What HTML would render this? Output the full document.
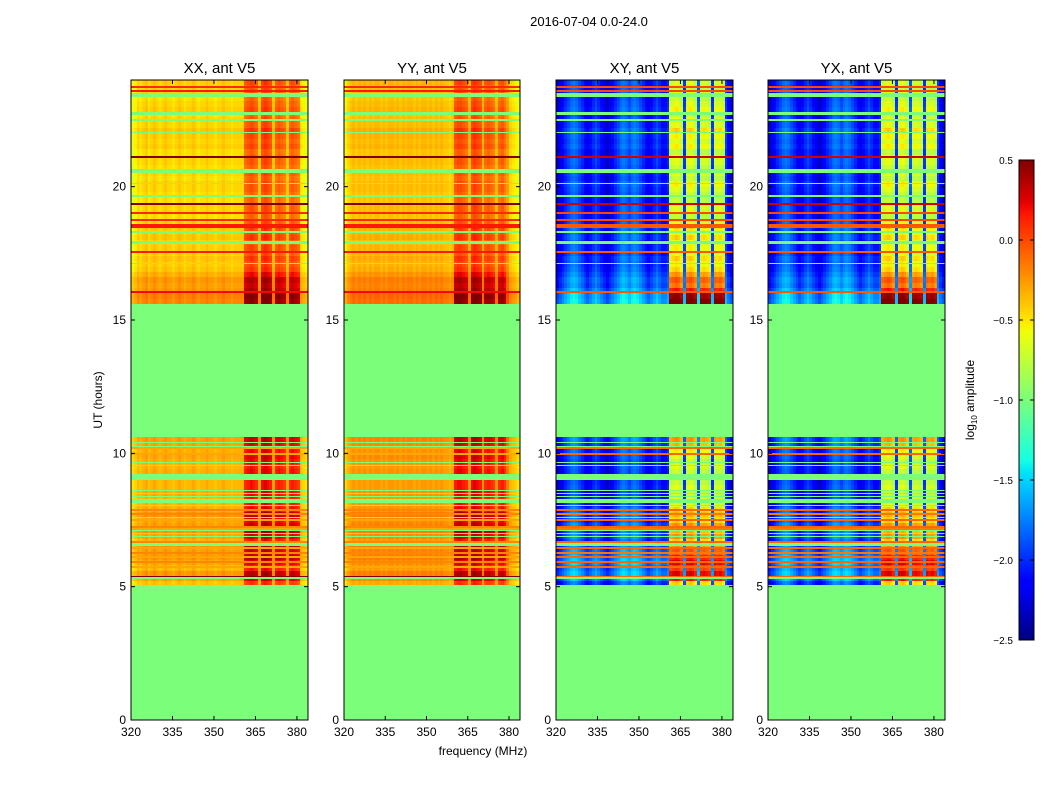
<!DOCTYPE html>
<html><head><meta charset="utf-8"><style>
body{margin:0;background:#fff;width:1050px;height:800px;overflow:hidden;position:relative;font-family:"Liberation Sans",sans-serif}
canvas{position:absolute;image-rendering:pixelated}
svg{position:absolute;left:0;top:0}
</style></head><body>
<canvas id="c0" width="177" height="640" style="left:131px;top:80px"></canvas>
<canvas id="c1" width="176" height="640" style="left:344px;top:80px"></canvas>
<canvas id="c2" width="177" height="640" style="left:556px;top:80px"></canvas>
<canvas id="c3" width="177" height="640" style="left:768px;top:80px"></canvas>
<canvas id="cb" width="15" height="480" style="left:1019px;top:160px"></canvas>
<svg id="ov" width="1050" height="800"></svg>
<script>
// ---- data ----
const panelTitles = ["XX, ant V5","YY, ant V5","XY, ant V5","YX, ant V5"];
const freqStart = 320, freqStep = 1;
const timeStart = 5.0, timeStep = 0.2;
const xTicks = [320,335,350,365,380];
const yTicks = [0,5,10,15,20];
const cbTicks = [0.5,0.0,-0.5,-1.0,-1.5,-2.0,-2.5];
const cbTickLabels = ["0.5","0.0","\u22120.5","\u22121.0","\u22121.5","\u22122.0","\u22122.5"];
const colXX = [-0.65,-0.6,-0.5,-0.55,-0.5,-0.45,-0.55,-0.5,-0.45,-0.5,
-0.55,-0.5,-0.45,-0.5,-0.5,-0.55,-0.5,-0.45,-0.5,-0.55,
-0.5,-0.5,-0.45,-0.5,-0.55,-0.5,-0.5,-0.45,-0.5,-0.5,
-0.55,-0.5,-0.5,-0.45,-0.5,-0.5,-0.55,-0.5,-0.5,-0.5,
-0.5,-0.2,-0.15,-0.1,-0.15,-0.2,-0.45,-0.1,-0.05,-0.1,
-0.15,-0.45,-0.2,-0.15,-0.2,-0.25,-0.45,-0.2,-0.15,-0.2,
-0.25,-0.55,-0.6,-0.65];
const colYY = [-0.6,-0.5,-0.45,-0.4,-0.45,-0.4,-0.45,-0.4,-0.45,-0.4,
-0.45,-0.4,-0.4,-0.45,-0.4,-0.45,-0.4,-0.4,-0.45,-0.4,
-0.45,-0.4,-0.45,-0.4,-0.4,-0.45,-0.4,-0.45,-0.4,-0.4,
-0.45,-0.4,-0.45,-0.4,-0.45,-0.4,-0.45,-0.45,-0.5,-0.45,
-0.15,-0.1,-0.1,-0.15,-0.2,-0.4,-0.1,-0.05,-0.1,-0.15,
-0.4,-0.2,-0.15,-0.2,-0.25,-0.4,-0.2,-0.15,-0.25,-0.3,
-0.5,-0.55,-0.6,-0.65];
const colXY = [-2.35,-2.25,-2.15,-2.05,-1.95,-1.85,-1.8,-1.85,-1.95,-2.05,
-2.15,-2.25,-2.15,-2.05,-1.95,-2.05,-2.15,-2.25,-2.35,-2.25,
-2.15,-2.05,-1.95,-1.85,-1.8,-1.85,-1.95,-1.85,-1.8,-1.85,
-1.95,-2.05,-2.15,-2.25,-2.15,-2.05,-1.95,-2.05,-2.15,-2.15,
-2.05,-0.8,-0.75,-0.7,-0.75,-0.85,-2.0,-0.75,-0.7,-0.75,
-0.85,-1.9,-0.8,-0.75,-0.8,-0.85,-2.0,-0.75,-0.8,-0.75,
-0.85,-2.0,-2.2,-2.3];
const colYX = [-2.35,-2.25,-2.15,-2.05,-1.95,-1.85,-1.8,-1.85,-1.95,-2.05,
-2.15,-2.25,-2.15,-2.05,-1.95,-2.05,-2.15,-2.25,-2.35,-2.25,
-2.15,-2.05,-1.95,-1.85,-1.8,-1.85,-1.95,-1.85,-1.8,-1.85,
-1.95,-2.05,-2.15,-2.25,-2.15,-2.05,-1.95,-2.05,-2.15,-2.15,
-2.05,-0.8,-0.75,-0.7,-0.75,-0.85,-2.0,-0.75,-0.7,-0.75,
-0.85,-1.9,-0.8,-0.75,-0.8,-0.85,-2.0,-0.75,-0.8,-0.75,
-0.85,-2.0,-2.2,-2.3];
const N = null;
const rowPar = [0.2,0.4,0.5,0.3,0.4,0.5,0.45,0.5,0.3,0.4,
0.5,0.45,0.4,0.5,0.35,0.3,0.3,0.35,0.3,0.3,
N,0.35,0.3,0.35,0.4,0.35,0.4,0.45,
N,N,N,N,N,N,N,N,N,N,N,N,N,N,N,N,N,N,N,N,N,N,N,N,N,
0.6,0.65,0.5,0.45,0.5,0.35,0.2,0.15,0.2,0.1,
0.15,0.1,0.2,0.15,0.2,0.1,0.05,0.1,0.1,0.05,
0.05,0.1,0.1,0.05,0.1,0.05,0.1,0.1,0.05,0.15,
0.1,0.15,0.2,0.1,0.1,0.05,0.15,0.1,0.05,0.1,
0.1,0.15];
const rowCross = [0.3,0.9,1.0,0.8,1.0,0.9,0.7,0.5,0.3,0.5,
0.4,0.5,0.3,0.4,0.3,0.1,0.1,0,0.1,0,
N,0,0.1,0,0.1,0.2,0.4,0.5,
N,N,N,N,N,N,N,N,N,N,N,N,N,N,N,N,N,N,N,N,N,N,N,N,N,
1.3,1.2,0.9,0.6,0.7,0.5,0.3,0.2,0.3,0.1,
0.2,0.1,0.3,0.2,0.3,0.1,0,0.1,0.1,0,
0,0.1,0.2,0,0.1,0,0.1,0.1,0,0.2,
0.1,0.2,0.3,0.1,0.1,0,0.2,0.1,0,0.1,
0,0.1];
const flagStart = [23.38,22.68,22.45,22.0,20.5,20.1,19.63,18.28,17.85,17.1,
9.0,8.15,6.52,5.28,10.4,10.22,9.65,9.54,9.2,8.6,8.48,8.35,8.04,7.59,7.1,6.98,6.85];
const flagEnd = [23.52,22.8,22.55,22.05,20.65,20.14,19.68,18.32,17.95,17.14,
9.18,8.3,6.62,5.38,10.44,10.26,9.69,9.58,9.24,8.64,8.52,8.39,8.08,7.63,7.14,7.02,6.89];
const hotHours = [23.75,23.6,21.1,19.35,19.0,18.75,18.55,18.48,17.55,16.05,
10.2,9.97,7.87,7.72,7.5,7.24,7.15,6.68,6.45,6.26,6.11,5.92,5.74,5.36];
const hotPar = [0.1,0.15,0.5,0.5,0.1,0.1,0.15,0.15,0.15,0.2,
-0.3,-0.3,-0.2,-0.2,-0.3,-0.2,-0.3,-0.2,-0.3,-0.2,-0.3,-0.2,-0.3,0.5];
const hotCross = [0.0,0.0,0.3,0.3,0.0,0.0,-0.05,-0.05,-0.05,-0.05,
-0.1,-0.1,-0.1,-0.15,-0.1,-0.1,-0.15,-0.1,-0.1,-0.15,-0.1,-0.1,-0.1,-0.1];

// ---- helpers ----
function lerp(pts,t){for(let i=1;i<pts.length;i++){if(t<=pts[i][0]){const a=pts[i-1],b=pts[i];return a[1]+(b[1]-a[1])*(t-a[0])/(b[0]-a[0]);}}return pts[pts.length-1][1];}
function jet(v){let t=(v+2.5)/3;t=Math.max(0,Math.min(1,t));
const r=lerp([[0,0],[0.35,0],[0.66,1],[0.89,1],[1,0.5]],t);
const g=lerp([[0,0],[0.125,0],[0.375,1],[0.64,1],[0.91,0],[1,0]],t);
const b=lerp([[0,0.5],[0.11,1],[0.34,1],[0.65,0],[1,0]],t);
return `rgb(${Math.round(r*255)},${Math.round(g*255)},${Math.round(b*255)})`;}
const FMIN=320, FMAX=384, PH=640;
function yScale(h){return PH-h/24*PH;}
const panels=[{id:"c0",col:colXX,row:rowPar,hot:hotPar,cross:false,left:131,w:177},
{id:"c1",col:colYY,row:rowPar,hot:hotPar,cross:false,left:344,w:176},
{id:"c2",col:colXY,row:rowCross,hot:hotCross,cross:true,left:556,w:177},
{id:"c3",col:colYX,row:rowCross,hot:hotCross,cross:true,left:768,w:177}];
panels.forEach(p=>{
 const ctx=document.getElementById(p.id).getContext('2d');
 const xS=f=>(f-FMIN)/(FMAX-FMIN)*p.w;
 ctx.fillStyle=jet(-1.0);ctx.fillRect(0,0,p.w,PH);
 p.row.forEach((r,i)=>{
  const h0=timeStart+i*timeStep,h1=h0+timeStep;
  const y0=Math.round(yScale(h1)),y1=Math.round(yScale(Math.max(h0,5.05)));
  p.col.forEach((c,j)=>{
   let v;
   if(r===null) v=-1.0;
   else if(!p.cross) v=c+r*(c>-0.3?1:0.5);
   else v=c+r*(c>-1.2?1:0.35);
   const f0=freqStart+j*freqStep;
   const x0=Math.round(xS(f0)),x1=Math.round(xS(f0+freqStep));
   ctx.fillStyle=jet(v);ctx.fillRect(x0,y0,x1-x0,y1-y0);
  });
 });
 hotHours.forEach((h,k)=>{
  const y=Math.round(yScale(h+0.04));
  ctx.fillStyle=jet(p.hot[k]);ctx.fillRect(0,y,p.w,2);
 });
 flagStart.forEach((s,k)=>{
  const y0=Math.round(yScale(flagEnd[k])),y1=Math.round(yScale(s));
  ctx.fillStyle=jet(-1.0);ctx.fillRect(0,y0,p.w,Math.max(1,y1-y0));
 });
});
(function(){const ctx=document.getElementById('cb').getContext('2d');
for(let y=0;y<480;y++){ctx.fillStyle=jet(0.5-3*(y+0.5)/480);ctx.fillRect(0,y,15,1);}})();

const NS="http://www.w3.org/2000/svg";const svg=document.getElementById('ov');
function el(tag,attrs,txt){const e=document.createElementNS(NS,tag);for(const k in attrs)e.setAttribute(k,attrs[k]);if(txt!==undefined)e.textContent=txt;svg.appendChild(e);return e;}
panels.forEach((p,k)=>{
 const L=p.left,T=80,W=p.w;
 const fx=f=>L+(f-FMIN)/(FMAX-FMIN)*W;
 const fr=el('rect',{x:L,y:T,width:W,height:PH,fill:'none',stroke:'#000','stroke-width':1});
 
 const t=el('text',{x:L+W/2,y:73,'text-anchor':'middle','font-size':15},panelTitles[k]);
 
 xTicks.forEach(f=>{const x=fx(f);
  el('line',{x1:x,x2:x,y1:T+PH,y2:T+PH-4,stroke:'#000'});
  el('line',{x1:x,x2:x,y1:T,y2:T+4,stroke:'#000'});
  const lb=el('text',{x:x,y:T+PH+16,'text-anchor':'middle','font-size':12},String(f));
  
 });
 yTicks.forEach(h=>{const y=T+yScale(h);
  el('line',{x1:L,x2:L+4,y1:y,y2:y,stroke:'#000'});
  el('line',{x1:L+W,x2:L+W-4,y1:y,y2:y,stroke:'#000'});
  const lb=el('text',{x:L-5,y:y+4,'text-anchor':'end','font-size':12},String(h));
  
 });
});
let e;
e=el('text',{x:589,y:26,'text-anchor':'middle','font-size':13},'2016-07-04 0.0-24.0');

e=el('text',{x:483,y:755,'text-anchor':'middle','font-size':12},'frequency (MHz)');

e=el('text',{x:0,y:0,'text-anchor':'middle','font-size':12,transform:'translate(102,400) rotate(-90)'},'UT (hours)');

e=el('rect',{x:1019,y:160,width:15,height:480,fill:'none',stroke:'#000'});

cbTicks.forEach((v,i)=>{const y=160+(0.5-v)/3*480;
 el('line',{x1:1019,x2:1023,y1:y,y2:y,stroke:'#000'});
 el('line',{x1:1034,x2:1030,y1:y,y2:y,stroke:'#000'});
 const lb=el('text',{x:1013,y:y+4,'text-anchor':'end','font-size':10},cbTickLabels[i]);
 
});
e=el('text',{x:0,y:0,'text-anchor':'middle','font-size':12,transform:'translate(974,400) rotate(-90)'});

e.innerHTML='log<tspan font-size="8" dy="3">10</tspan><tspan dy="-3"> amplitude</tspan>';
</script>
</body></html>
